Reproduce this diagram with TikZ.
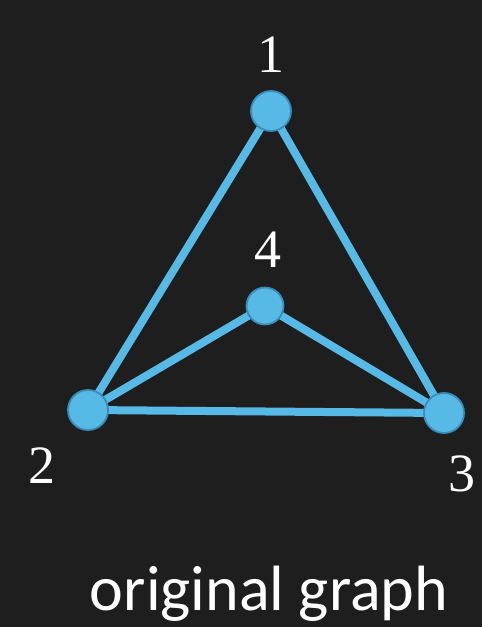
\documentclass[tikz,border=0pt]{standalone}
\usepackage{fontspec}
\newfontfamily\labelfont{Carlito}
\newfontfamily\numfont{Liberation Serif}
\definecolor{bg}{HTML}{1E1E1E}
\definecolor{nodefill}{HTML}{56B9E6}
\definecolor{nodeedge}{HTML}{3A8CB8}
\begin{document}
\begin{tikzpicture}[x=1pt,y=-1pt,
  vert/.style={circle,fill=nodefill,draw=nodeedge,line width=1.8pt,minimum size=40pt,inner sep=0pt},
  edge/.style={draw=nodefill,line width=8pt},
  numlabel/.style={text=white,font=\numfont\fontsize{54}{54}\selectfont,inner sep=0pt}]
\fill[bg] (0,0) rectangle (482,627);
\useasboundingbox (0,0) rectangle (482,627);
\coordinate (p1) at (271,111);
\coordinate (p2) at (88,410);
\coordinate (p3) at (444,413);
\coordinate (p4) at (265,306);
\draw[edge] (p1) -- (p2);
\draw[edge] (p1) -- (p3);
\draw[edge] (p2) -- (p3);
\draw[edge] (p4) -- (p2);
\draw[edge] (p4) -- (p3);
\node[vert] (n1) at (p1) {};
\node[vert] (n2) at (p2) {};
\node[vert] (n3) at (p3) {};
\node[vert,minimum size=37pt] (n4) at (p4) {};
\node[numlabel] (l1) at (271,55) {1};
\node[numlabel] (l4) at (268,250) {4};
\node[numlabel] (l2) at (42,466) {2};
\node[numlabel] (l3) at (462,474) {3};
\node[text=white,font=\labelfont\fontsize{64}{64}\selectfont,inner sep=0pt] (cap) at (269,594) {original graph};
\end{tikzpicture}
\end{document}
